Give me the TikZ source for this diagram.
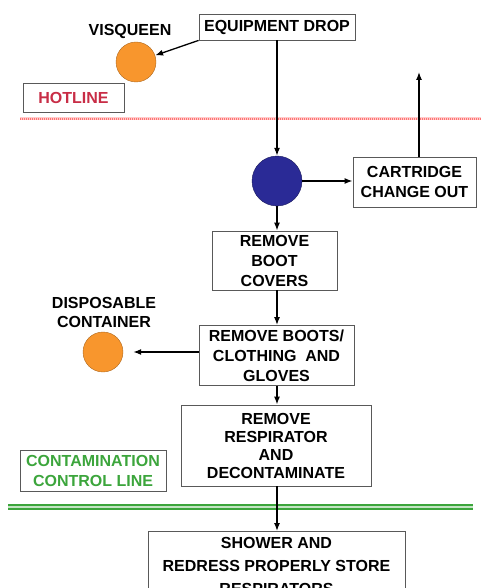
\documentclass[tikz,border=0pt]{standalone}
\usepackage{fontspec}
\setmainfont{Liberation Sans}
\usetikzlibrary{shapes,arrows.meta}

\definecolor{hotred}{RGB}{200,45,70}
\definecolor{ctlgreen}{RGB}{60,165,60}
\definecolor{binorange}{RGB}{248,150,45}
\definecolor{hubblue}{RGB}{42,42,150}

\begin{document}
\begin{tikzpicture}[x=1pt, y=-1pt, >={Latex[length=8pt,width=6pt]},
  font=\bfseries\fontsize{16}{20}\selectfont,
  box/.style={draw=black!65, line width=0.8pt, align=center, inner sep=0pt},
  bin/.style={draw=binorange!70!black, fill=binorange, circle, minimum size=40pt, inner sep=0pt},
  flow/.style={->, line width=1.3pt}]
\def \spine {277}

\useasboundingbox (0,0) rectangle (481,588);
\coordinate (spine) at (\spine,0);

% hot side
\node[box, minimum width=156pt, minimum height=26pt] (drop) at (277,27) {EQUIPMENT DROP};
\node (vislabel) at (130,31) {VISQUEEN};
\node[bin] (visq) at (136,62) {};
\node[box, minimum width=101pt, minimum height=29pt, text=hotred] (hotline) at (73.5,97.5) {HOTLINE};
\fill[red!20] (20,117.5) rectangle (481,120.5);
\draw[red!55, line width=2pt, dash pattern=on 1pt off 1pt] (20,119) -- (481,119);

% respirator check
\node[circle, draw=hubblue!60!black, fill=hubblue, minimum size=50pt, inner sep=0pt] (hub) at (277,181) {};
\node[box, minimum width=123pt, minimum height=50pt] (cart) at (414.5,182) {CARTRIDGE\\CHANGE OUT};
\coordinate (back) at (419,72);

% undress steps
\node[box, minimum width=125pt, minimum height=59pt] (boot) at (274.5,260.5) {REMOVE\\BOOT\\COVERS};
\node[box, minimum width=155pt, minimum height=60pt] (boots) at (276.5,355.5) {REMOVE BOOTS/\\CLOTHING~~AND\\GLOVES};
\node[align=center] (displabel) at (104,312) {DISPOSABLE\\[-1pt]CONTAINER};
\node[bin] (disp) at (103,352) {};
\node[box, minimum width=190pt, minimum height=81pt, font=\bfseries\fontsize{16}{18}\selectfont]
  (resp) at (276,445.5) {REMOVE\\RESPIRATOR\\AND\\DECONTAMINATE};

% cold side
\node[box, minimum width=146pt, minimum height=41pt, text=ctlgreen] (ccl) at (93,470.5) {CONTAMINATION\\CONTROL LINE};
\draw[ctlgreen, line width=2pt, double=ctlgreen!30, double distance=2.5pt] (8,507) -- (473,507);
\node[box, minimum width=257pt, minimum height=90pt, anchor=north, text depth=48pt,
  font=\bfseries\fontsize{16}{23}\selectfont] (shower) at (276.5,531)
  {\rule{0pt}{17pt}SHOWER AND\\REDRESS PROPERLY STORE\\RESPIRATORS};

% connectors
\draw[flow] (drop.south west) -- (visq);
\draw[flow] (drop.south) -- (hub.north);
\draw[flow] (hub.east) -- (cart.west |- hub.east);
\draw[flow] (back |- cart.north) -- (back);
\draw[flow] (hub.south) -- (hub.south |- boot.north);
\foreach \a/\b in {boot/boots, boots/resp, resp/shower}
  \draw[flow] (\a.south -| spine) -- (\b.north -| spine);
\draw[flow, shorten >=10pt] (boots.west |- disp) -- (disp.east);
\end{tikzpicture}
\end{document}
